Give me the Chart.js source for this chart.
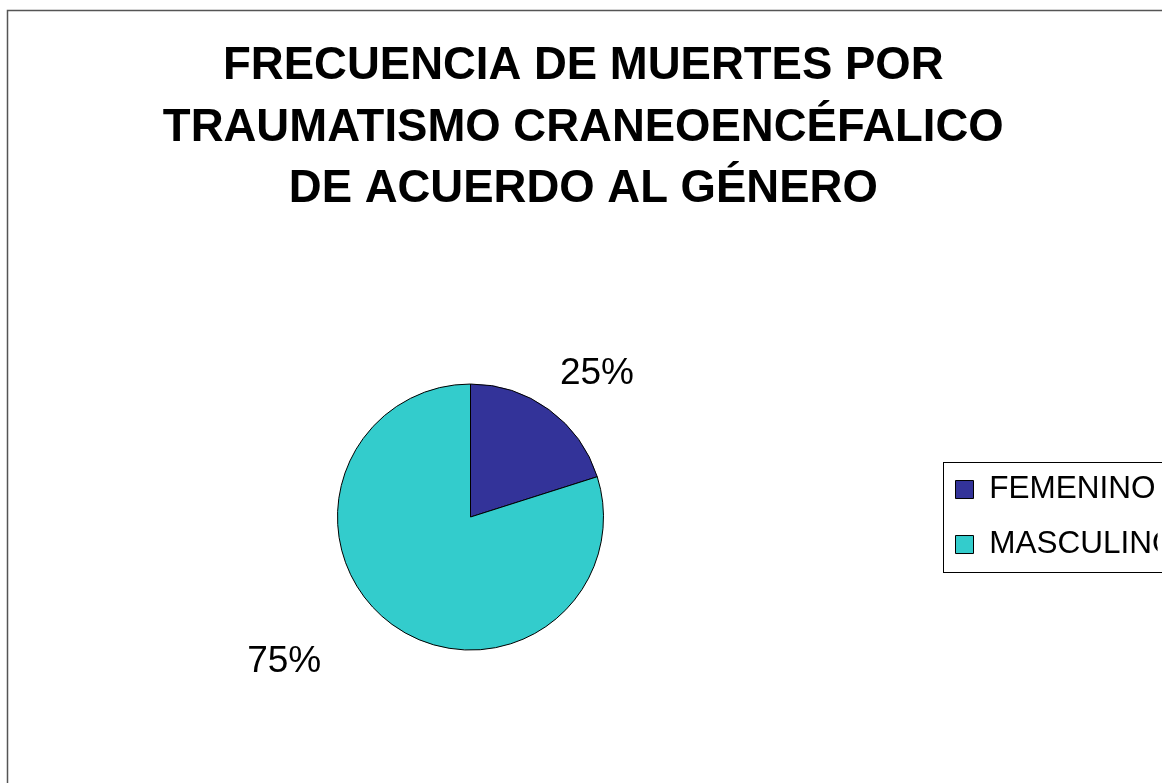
<!DOCTYPE html>
<html>
<head>
<meta charset="utf-8">
<title>Frecuencia de muertes por TCE</title>
<script src="https://cdn.jsdelivr.net/npm/chart.js@4/dist/chart.umd.min.js"></script>
<style>
  html, body { margin: 0; padding: 0; background: #fff; overflow: hidden; }
  canvas { display: block; }
</style>
</head>
<body>
<canvas id="pieChart" width="1162" height="783"></canvas>
<script>
const titulo = ["FRECUENCIA DE MUERTES POR", "TRAUMATISMO CRANEOENCÉFALICO", "DE ACUERDO AL GÉNERO"]
const generos = ["FEMENINO", "MASCULINO"]
const valores = [20.1, 79.9]
const etiquetasPct = ["25%", "75%"]
const colores = ["#333399", "#33CCCC"]

// marco exterior del grafico
const marco = {
  id: "marco",
  beforeDraw(chart) {
    const ctx = chart.ctx
    ctx.save()
    ctx.strokeStyle = "#555"
    ctx.lineWidth = 1.5
    ctx.strokeRect(7.5, 10.5, 2000, 2000)
    ctx.restore()
  }
}

// caja alrededor de la leyenda
const cajaLeyenda = {
  id: "cajaLeyenda",
  afterDraw(chart) {
    const lg = chart.legend
    if (!lg || !lg.legendHitBoxes.length) return
    const hb = lg.legendHitBoxes
    const top = hb[0].top - 11.5
    const bottom = hb[hb.length - 1].top + hb[hb.length - 1].height + 11.5
    const ctx = chart.ctx
    ctx.save()
    ctx.strokeStyle = "#000"
    ctx.lineWidth = 1
    ctx.strokeRect(Math.round(lg.left + 11) + 0.5, Math.round(top) + 0.5, 400, Math.round(bottom - top))
    ctx.restore()
  }
}

// porcentajes fuera de las porciones
const porcentajes = {
  id: "porcentajes",
  afterDatasetsDraw(chart, args, opts) {
    const ctx = chart.ctx
    const arcs = chart.getDatasetMeta(0).data
    ctx.save()
    ctx.font = "37px 'Liberation Sans', Arial, sans-serif"
    ctx.fillStyle = "#000"
    ctx.textAlign = "center"
    ctx.textBaseline = "middle"
    arcs.forEach((arc, i) => {
      const p = arc.getProps(["x", "y", "startAngle", "endAngle", "outerRadius"], true)
      const mid = (p.startAngle + p.endAngle) / 2 + opts.giro[i] * Math.PI / 180
      const d = p.outerRadius + opts.extra[i]
      ctx.fillText(etiquetasPct[i], p.x + Math.cos(mid) * d, p.y + Math.sin(mid) * d)
    })
    ctx.restore()
  }
}

const pChart = document.getElementById("pieChart").getContext("2d")
const pieChart = new Chart(pChart, {
  type: "pie",
  data: {
    labels: generos,
    datasets: [
      {
        data: valores,
        backgroundColor: colores,
        borderColor: "#000",
        borderWidth: 1,
        radius: 133,
      },
    ],
  },
  options: {
    responsive: false,
    animation: false,
    layout: {
      padding: { left: 9, right: 4.4, top: 0, bottom: 0 },
    },
    plugins: {
      title: {
        display: true,
        text: titulo,
        color: "#000",
        font: { family: "'Liberation Sans', Arial, sans-serif", size: 45.5, weight: "bold", lineHeight: 1.352 },
        padding: { top: 36, bottom: 30.5 },
      },
      legend: {
        position: "right",
        fullSize: false,
        maxWidth: 225.6,
        labels: {
          color: "#000",
          boxWidth: 18,
          boxHeight: 18,
          padding: 23.5,
          font: { family: "'Liberation Sans', Arial, sans-serif", size: 31.5 },
        },
      },
      tooltip: { enabled: false },
      porcentajes: {
        giro: [5.2, 15.9],
        extra: [58.3, 103.2],
      },
    },
  },
  plugins: [marco, porcentajes, cajaLeyenda],
})
</script>
</body>
</html>
